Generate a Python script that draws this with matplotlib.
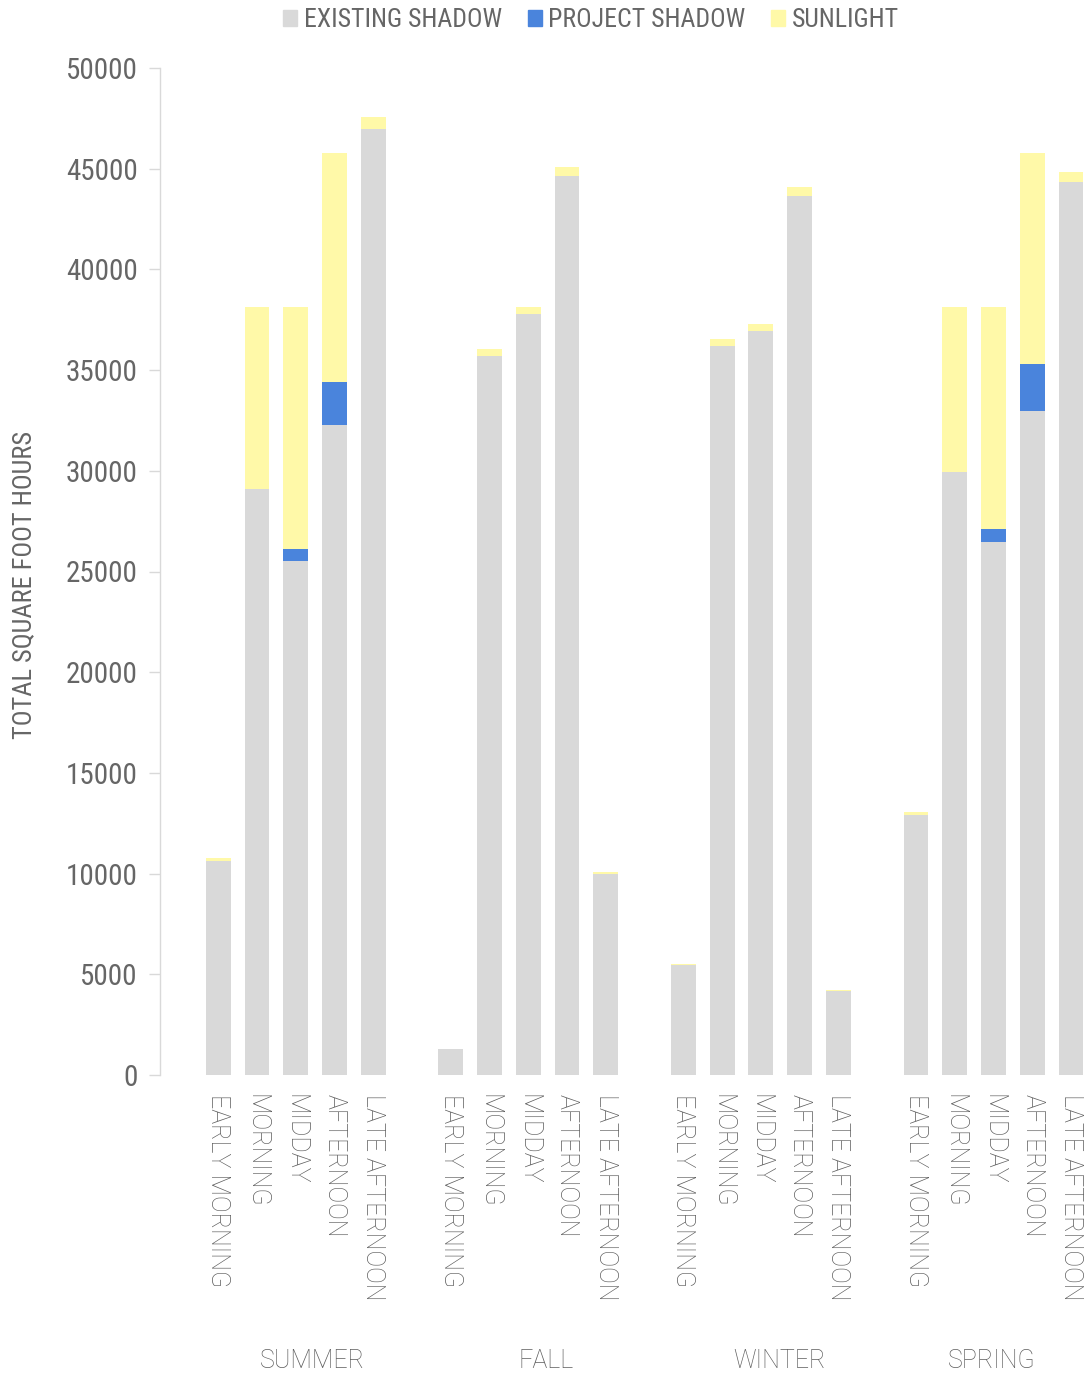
import matplotlib
matplotlib.use("Agg")
import matplotlib.pyplot as plt
from matplotlib.patches import Patch
from matplotlib import font_manager
import numpy as np

seasons = ["SUMMER", "FALL", "WINTER", "SPRING"]
periods = ["EARLY MORNING", "MORNING", "MIDDAY", "AFTERNOON", "LATE AFTERNOON"]

existing = [
    [10650, 29080, 25540, 32260, 46970],   # summer
    [1300, 35720, 37790, 44650, 10000],    # fall
    [5460, 36200, 36960, 43660, 4190],     # winter
    [12910, 29960, 26480, 32970, 44340],   # spring
]
project = [
    [0, 0, 580, 2170, 0],
    [0, 0, 0, 0, 0],
    [0, 0, 0, 0, 0],
    [0, 0, 630, 2330, 0],
]
sunlight = [
    [110, 9050, 12010, 11350, 610],
    [0, 340, 340, 420, 80],
    [70, 330, 350, 430, 50],
    [150, 8190, 11040, 10480, 500],
]

names = {f.name for f in font_manager.fontManager.ttflist}
cond = None
for cand in ["Liberation Sans Narrow", "Roboto Condensed", "Open Sans Condensed"]:
    if cand in names:
        cond = cand
        break
if cond is None:
    cond = "Roboto"
light = "Roboto" if "Roboto" in names else "DejaVu Sans"

TXT = "#666666"
C_EX = "#D9D9D9"
C_PR = "#4A84DC"
C_SU = "#FFF9A8"

fig = plt.figure(figsize=(10.86, 13.76), dpi=100)
ax = fig.add_axes([160/1086, 1 - 1075/1376, 1 - 160/1086, (1075 - 68)/1376])

ex = np.array(existing).ravel()
pr = np.array(project).ravel()
su = np.array(sunlight).ravel()
xs = np.concatenate([np.arange(5) + 6 * g for g in range(len(seasons))])
w = 0.64
ax.bar(xs, ex, w, color=C_EX, linewidth=0)
ax.bar(xs, pr, w, bottom=ex, color=C_PR, linewidth=0)
ax.bar(xs, su, w, bottom=ex + pr, color=C_SU, linewidth=0)

ax.set_xlim(-1.5, 22 + 15/38.8)
ax.set_ylim(0, 50000)
ax.set_yticks(np.arange(0, 50001, 5000))
ax.set_yticklabels([str(v) for v in range(0, 50001, 5000)], fontsize=21, color=TXT, family=cond)
ax.tick_params(axis="y", length=8, width=1, color="#D9D9D9", pad=8)

ax.set_xticks(xs)
ax.set_xticklabels(periods * len(seasons), rotation=270, fontsize=18, color="#5E5E5E",
                   family=light, fontweight="light", va="top", ha="center")
ax.tick_params(axis="x", length=0, pad=14)

for s in ["top", "right", "bottom"]:
    ax.spines[s].set_visible(False)
ax.spines["left"].set_color("#D9D9D9")
ax.spines["left"].set_linewidth(1)

season_x = [2.44, 8.46, 14.48, 19.95]
for s, sx in zip(seasons, season_x):
    ax.text(sx, -(1361 - 1075) / 1007, s, transform=ax.get_xaxis_transform(),
            ha="center", va="center", fontsize=18, color="#5E5E5E", family=light, fontweight="light")

ax.set_ylabel("TOTAL SQUARE FOOT HOURS", fontsize=19, color=TXT, family=cond)
ax.yaxis.set_label_coords(-(160 - 36) / 926, (1075 - 585) / 1007)

handles = [Patch(color=C_EX, label="EXISTING SHADOW"),
           Patch(color=C_PR, label="PROJECT SHADOW"),
           Patch(color=C_SU, label="SUNLIGHT")]
fig.legend(handles=handles, loc="center", bbox_to_anchor=(591/1086, 1 - 20/1376), ncol=3,
           frameon=False, handlelength=0.55, handleheight=0.55, handletextpad=0.25,
           columnspacing=1.0, prop={"family": cond, "size": 18.5}, labelcolor=TXT)

fig.savefig("out.png", dpi=100)
